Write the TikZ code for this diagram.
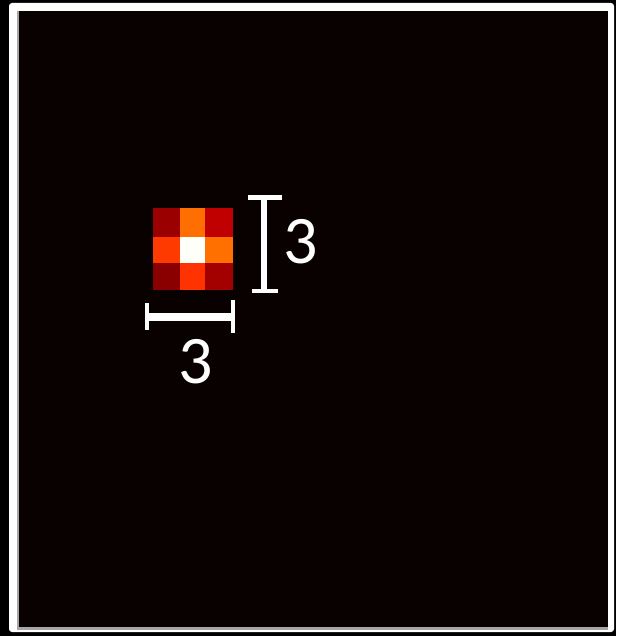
\documentclass[tikz,border=0pt]{standalone}
\usepackage{fontspec}
\setmainfont{Carlito}
\definecolor{bgdark}{RGB}{9,0,0}
\definecolor{cA}{RGB}{154,0,0}
\definecolor{cB}{RGB}{255,110,0}
\definecolor{cC}{RGB}{192,0,0}
\definecolor{cD}{RGB}{255,58,0}
\definecolor{cE}{RGB}{255,255,250}
\definecolor{cF}{RGB}{255,112,0}
\definecolor{cG}{RGB}{138,0,0}
\definecolor{cH}{RGB}{255,51,0}
\definecolor{cI}{RGB}{163,0,0}
\tikzset{
  pix/.style={draw=none},
  barw/.style={fill=white,draw=none},
  dimlabel/.style={text=white,inner sep=0pt,font=\fontsize{68}{68}\selectfont}
}
\begin{document}
\begin{tikzpicture}[x=1pt,y=-1pt]
\useasboundingbox (0,0) rectangle (616,636);
\fill[black] (0,0) rectangle (616,636);
\fill[white,rounded corners=3pt] (9,3) rectangle (614,632);
\fill[gray!70] (17,11) rectangle (608,630);
\fill[bgdark] (19,11) rectangle (608,627);
% 3x3 pixel kernel
\fill[cA] (152.7,208.3) rectangle (180,236.7);
\fill[cB] (180,208.3) rectangle (205.3,236.7);
\fill[cC] (205.3,208.3) rectangle (232.7,236.7);
\fill[cD] (152.7,236.7) rectangle (180,263.3);
\fill[cE] (180,236.7) rectangle (205.3,263.3);
\fill[cF] (205.3,236.7) rectangle (232.7,263.3);
\fill[cG] (152.7,263.3) rectangle (180,290);
\fill[cH] (180,263.3) rectangle (205.3,290);
\fill[cI] (205.3,263.3) rectangle (232.7,290);
% vertical dimension bar
\fill[barw] (248.3,195) rectangle (282.3,200.5);
\fill[barw] (260.7,200) rectangle (267.3,289.5);
\fill[barw] (252.3,288.5) rectangle (278.3,293.3);
\node[dimlabel] (vlab) at (300.8,241.7) {3};
% horizontal dimension bar
\fill[barw] (145,303) rectangle (148.5,329.7);
\fill[barw] (148,313) rectangle (231,321.3);
\fill[barw] (230.7,299.7) rectangle (235,333);
\node[dimlabel] (hlab) at (195.8,361.7) {3};
\end{tikzpicture}
\end{document}
